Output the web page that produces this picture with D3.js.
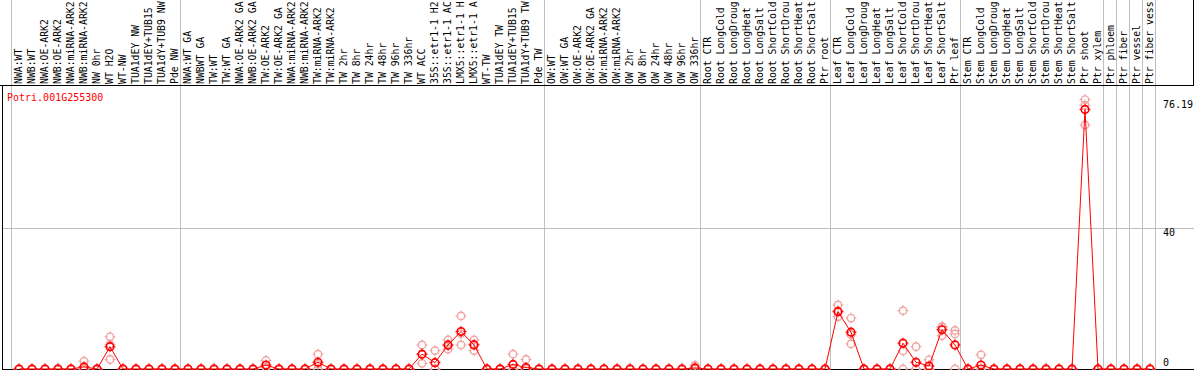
<!DOCTYPE html>
<html>
<head>
<meta charset="utf-8">
<script src="https://cdn.jsdelivr.net/npm/d3@7"></script>
<style>
  body { margin: 0; background: #fff; }
  svg text { font-family: "DejaVu Sans Mono", monospace; font-size: 10px; }
</style>
</head>
<body>
<svg id="chart" width="1194" height="370"></svg>
<script>
var geneName = 'Potri.001G255300';

var categories = [
  'NWA:WT', 'NWB:WT', 'NWA:OE-ARK2', 'NWB:OE-ARK2', 'NWA:miRNA-ARK2', 'NWB:miRNA-ARK2',
  'NW 0hr', 'WT H2O', 'WT-NW', 'TUA1dEY NW', 'TUA1dEY+TUB15 NW', 'TUA1dY+TUB9 NW', 'Pde NW',
  'NWA:WT GA', 'NWBWT GA', 'TW:WT', 'TW:WT GA', 'NWA:OE-ARK2 GA', 'NWB:OE-ARK2 GA',
  'TW:OE-ARK2', 'TW:OE-ARK2 GA', 'NWA:miRNA-ARK2 GA', 'NWB:miRNA-ARK2 GA', 'TW:miRNA-ARK2',
  'TW:miRNA-ARK2 GA', 'TW 2hr', 'TW 8hr', 'TW 24hr', 'TW 48hr', 'TW 96hr', 'TW 336hr', 'WT ACC',
  '35S::etr1-1 H2O', '35S::etr1-1 ACC', 'LMX5::etr1-1 H2O', 'LMX5::etr1-1 ACC', 'WT-TW',
  'TUA1dEY TW', 'TUA1dEY+TUB15 TW', 'TUA1dY+TUB9 TW', 'Pde TW',
  'OW:WT', 'OW:WT GA', 'OW:OE-ARK2', 'OW:OE-ARK2 GA', 'OW:miRNA-ARK2', 'OW:miRNA-ARK2 GA',
  'OW 2hr', 'OW 8hr', 'OW 24hr', 'OW 48hr', 'OW 96hr', 'OW 336hr',
  'Root CTR', 'Root LongCold', 'Root LongDrought', 'Root LongHeat', 'Root LongSalt',
  'Root ShortCold', 'Root ShortDrought', 'Root ShortHeat', 'Root ShortSalt', 'Ptr root',
  'Leaf CTR', 'Leaf LongCold', 'Leaf LongDrought', 'Leaf LongHeat', 'Leaf LongSalt',
  'Leaf ShortCold', 'Leaf ShortDrought', 'Leaf ShortHeat', 'Leaf ShortSalt', 'Ptr leaf',
  'Stem CTR', 'Stem LongCold', 'Stem LongDrought', 'Stem LongHeat', 'Stem LongSalt',
  'Stem ShortCold', 'Stem ShortDrought', 'Stem ShortHeat', 'Stem ShortSalt', 'Ptr shoot',
  'Ptr xylem', 'Ptr phloem', 'Ptr fiber', 'Ptr vessel', 'Ptr fiber vessel'
];

// index of first category in each block (last one closes the chart)
var groupStarts = [0, 13, 41, 53, 63, 73, 84, 85, 86, 87, 88];

// mean expression (red line)
var meanValues = [
  0, 0, 0, 0, 0, 0.6, 0, 6.3, 0, 0, 0, 0, 0,
  0, 0, 0, 0, 0, 0, 1.1, 0, 0, 0, 1.9, 0, 0, 0, 0, 0, 0, 0, 4.2,
  1.8, 6.8, 10.6, 6.8, 0, 0, 1.3, 0.4, 0,
  0, 0, 0, 0, 0, 0, 0, 0, 0, 0, 0, 0.3,
  0, 0, 0, 0, 0, 0, 0, 0, 0, 0,
  16.2, 10.4, 0, 0, 0, 7.3, 1.9, 0.85, 11.1, 6.8,
  0, 1.1, 0, 0, 0, 0, 0, 0, 0, 73.4,
  0, 0, 0, 0, 0
];

// replicate values (pink circles)
var rep1 = [
  0, 0, 0, 0, 0, 2.2, 0, 9.1, 0, 0, 0, 0, 0,
  0, 0, 0, 0, 0, 0, 2.4, 0, 0, 0, 4.2, 0, 0, 0, 0, 0, 0, 0, 6.8,
  5.2, 8.2, 15.0, 8.2, 0, 0, 4.2, 2.7, 0,
  0, 0, 0, 0, 0, 0, 0, 0, 0, 0, 0, 1.0,
  0, 0, 0, 0, 0, 0, 0, 0, 0, 0,
  18.1, 14.4, 0, 0, 0, 16.5, 6.3, 2.6, 12.0, 10.9,
  0, 4.0, 0, 0, 0, 0, 0, 0, 0, 76.19,
  0, 0, 0, 0, 0
];
var rep2 = [
  0, 0, 0, 0, 0, 0, 0, 6.9, 0, 0, 0, 0, 0,
  0, 0, 0, 0, 0, 0, 0.6, 0, 0, 0, 1.3, 0, 0, 0, 0, 0, 0, 0, 4.2,
  0, 6.6, 10.0, 7.0, 0, 0, 0, 0, 0,
  0, 0, 0, 0, 0, 0, 0, 0, 0, 0, 0, 0,
  0, 0, 0, 0, 0, 0, 0, 0, 0, 0,
  16.5, 9.7, 0, 0, 0, 5.1, 0, 0, 11.8, 9.9,
  0, 0, 0, 0, 0, 0, 0, 0, 0, 74.6,
  0, 0, 0, 0, 0
];
var rep3 = [
  0, 0, 0, 0, 0, 0, 0, 2.7, 0, 0, 0, 0, 0,
  0, 0, 0, 0, 0, 0, 0.3, 0, 0, 0, 0, 0, 0, 0, 0, 0, 0, 0, 1.6,
  0, 5.6, 6.8, 5.2, 0, 0, 0, 0, 0,
  0, 0, 0, 0, 0, 0, 0, 0, 0, 0, 0, 0,
  0, 0, 0, 0, 0, 0, 0, 0, 0, 0,
  14.8, 7.1, 0, 0, 0, 0, 0, 0, 9.4, 0,
  0, 0, 0, 0, 0, 0, 0, 0, 0, 69.0,
  0, 0, 0, 0, 0
];

var yTicks = [76.19, 40, 0];

var svg = d3.select('#chart');
var W = 1194, H = 370;
var plotTop = 85, plotBottom = 369, plotLeft = 2;
var maxLabelChars = 14; // labels are cut at the top edge, as in the source plot

var x = d3.scaleLinear().domain([0, categories.length]).range([11, 11 + 13 * categories.length]);
var y = d3.scaleLinear().domain([0, 80.3]).range([plotBottom, plotTop]);
var px = function(i){ return x(i) + 8; };

// grid
svg.append('g').selectAll('line.vg')
  .data(groupStarts).enter().append('line')
  .attr('x1', function(d){ return x(d) + 0.5; })
  .attr('x2', function(d){ return x(d) + 0.5; })
  .attr('y1', 0).attr('y2', H)
  .attr('stroke', '#c0c0c0').attr('stroke-width', 1);

svg.append('line')
  .attr('x1', plotLeft).attr('x2', W)
  .attr('y1', Math.round(y(40)) + 0.5).attr('y2', Math.round(y(40)) + 0.5)
  .attr('stroke', '#c0c0c0');

// frame
svg.append('line').attr('x1', 0).attr('x2', W).attr('y1', plotTop + 0.5).attr('y2', plotTop + 0.5).attr('stroke', '#000');
svg.append('line').attr('x1', plotLeft + 0.5).attr('x2', plotLeft + 0.5).attr('y1', plotTop).attr('y2', H).attr('stroke', '#000');
svg.append('line').attr('x1', plotLeft).attr('x2', W).attr('y1', plotBottom + 0.5).attr('y2', plotBottom + 0.5).attr('stroke', '#000');
svg.append('line').attr('x1', W - 0.5).attr('x2', W - 0.5).attr('y1', 0).attr('y2', plotTop).attr('stroke', '#000');

// category labels
svg.append('g').selectAll('text.cat')
  .data(categories).enter().append('text')
  .attr('transform', function(d, i){ return 'translate(' + (x(i) + 11) + ',84) rotate(-90)'; })
  .attr('fill', '#000')
  .style('font-size', '9.8px')
  .text(function(d){ return d.slice(0, maxLabelChars).trim(); });

// y labels
svg.append('g').selectAll('text.yl')
  .data(yTicks).enter().append('text')
  .attr('x', 1163)
  .attr('y', function(d){ return d === 0 ? y(d) - 3 : y(d) + 8.5; })
  .attr('fill', '#000')
  .text(function(d){ return d; });

svg.append('text').attr('x', 7).attr('y', 101).attr('fill', '#ff0000').text(geneName);

// marker: small ring with four ticks
function marker(sel, color, width){
  sel.append('circle').attr('r', 3.8)
    .attr('fill', 'none').attr('stroke', color).attr('stroke-width', width);
  sel.append('path')
    .attr('d', 'M0,-5.5V-2.5M0,2.5V5.5M-5.5,0H-2.5M2.5,0H5.5')
    .attr('stroke', color).attr('stroke-width', 1);
}

// replicates
var reps = [];
[rep1, rep2, rep3].forEach(function(arr){
  arr.forEach(function(v, i){ reps.push({i: i, v: v}); });
});
svg.append('g').selectAll('g.rep')
  .data(reps).enter().append('g')
  .attr('transform', function(d){ return 'translate(' + px(d.i) + ',' + y(d.v) + ')'; })
  .call(marker, '#f0a0a0', 1.2);

// mean line
var line = d3.line().x(function(d, i){ return px(i); }).y(function(d){ return y(d); });
svg.append('path').datum(meanValues)
  .attr('d', line)
  .attr('fill', 'none').attr('stroke', '#ff0000').attr('stroke-width', 1);

svg.append('g').selectAll('g.mean')
  .data(meanValues).enter().append('g')
  .attr('transform', function(d, i){ return 'translate(' + px(i) + ',' + y(d) + ')'; })
  .call(marker, '#ff0000', 1.6);
</script>
</body>
</html>
